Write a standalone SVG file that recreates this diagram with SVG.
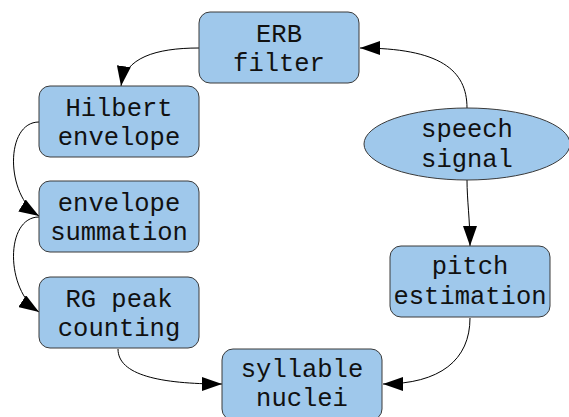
<svg xmlns="http://www.w3.org/2000/svg" width="569" height="417" viewBox="0 0 569 417">
<style>
.n{fill:#9fc8eb;stroke:#3a3a3a;stroke-width:1}
.t{font-family:"Liberation Mono","Courier New",monospace;font-size:25.5px;fill:#111;text-anchor:middle}
.e{fill:none;stroke:#000;stroke-width:1;marker-end:url(#ah)}
</style>
<defs>
<marker id="ah" markerUnits="userSpaceOnUse" markerWidth="20" markerHeight="14" refX="20" refY="7" orient="auto" viewBox="0 0 20 14">
<path d="M0,0 L20,7 L0,14 z" fill="#000"/>
</marker>
</defs>
<rect width="569" height="417" fill="#fff"/>
<g id="connectors">
<path class="e" d="M199,48 C155,48 125,58 121,86"/>
<path class="e" d="M467,108 C467,70 440,48 360,48"/>
<path class="e" d="M39,122 C5,122 5,195 39,216"/>
<path class="e" d="M39,217 C5,217 5,290 39,312"/>
<path class="e" d="M118,349 C118,375 160,384 222,384"/>
<path class="e" d="M467,180 C467,200 470,220 470,246"/>
<path class="e" d="M470,318 C470,360 440,384 383,384"/>
</g>
<g id="erb">
<rect class="n" x="199" y="12" width="160" height="71" rx="11"/>
<text class="t" x="279" y="42">ERB</text>
<text class="t" x="279" y="71">filter</text>
</g>
<g id="hilbert">
<rect class="n" x="39" y="86" width="160" height="71" rx="11"/>
<text class="t" x="119" y="116">Hilbert</text>
<text class="t" x="119" y="145">envelope</text>
</g>
<g id="summation">
<rect class="n" x="39" y="181" width="160" height="71" rx="11"/>
<text class="t" x="119" y="211">envelope</text>
<text class="t" x="119" y="240">summation</text>
</g>
<g id="rgpeak">
<rect class="n" x="39" y="277" width="160" height="71" rx="11"/>
<text class="t" x="119" y="307">RG peak</text>
<text class="t" x="119" y="336">counting</text>
</g>
<g id="syllable">
<rect class="n" x="222" y="349" width="160" height="71" rx="11"/>
<text class="t" x="302" y="377">syllable</text>
<text class="t" x="302" y="406">nuclei</text>
</g>
<g id="pitch">
<rect class="n" x="390" y="246" width="160" height="71" rx="11"/>
<text class="t" x="470" y="274">pitch</text>
<text class="t" x="470" y="304">estimation</text>
</g>
<g id="speech">
<ellipse class="n" cx="467" cy="144" rx="103" ry="36"/>
<text class="t" x="467" y="137">speech</text>
<text class="t" x="467" y="167">signal</text>
</g>
</svg>
